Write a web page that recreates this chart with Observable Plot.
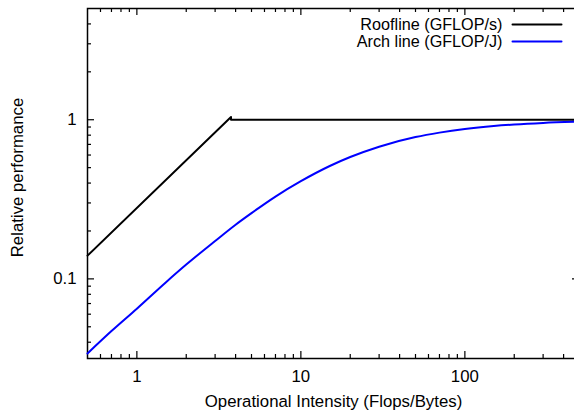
<!DOCTYPE html>
<html><head><meta charset="utf-8">
<script src="https://cdn.jsdelivr.net/npm/d3@7"></script>
<script src="https://cdn.jsdelivr.net/npm/@observablehq/plot@0.6"></script>
<style>
html,body{margin:0;padding:0;overflow:hidden;background:#fff;width:574px;height:410px}
#chart{width:574px;height:410px;overflow:hidden}
#chart svg{max-width:none !important;width:580px !important;height:410px !important;display:block}
</style></head><body><div id="chart"></div>
<script>
// Roofline (GFLOP/s)
const roofI = [0.5, 3.75, 3.75, 500];
const roofPerf = [0.14, 1.04, 1.0, 1.0];
// Arch line (GFLOP/J)
const archI = [0.5, 0.7, 1, 1.5, 2, 3, 4, 5, 7, 10, 15, 20, 30, 50, 70, 100, 150, 200, 300, 500];
const archPerf = [0.034, 0.047, 0.065, 0.095, 0.123, 0.173, 0.219, 0.259, 0.329, 0.411, 0.512, 0.583, 0.677, 0.778, 0.830, 0.875, 0.913, 0.933, 0.954, 0.972];
const seriesNames = ["Roofline (GFLOP/s)", "Arch line (GFLOP/J)"];
const seriesColors = ["#000000", "#0000ff"];
const xMajor = [1, 10, 100];
const xMinor = [0.6, 0.7, 0.8, 0.9, 2, 3, 4, 5, 6, 7, 8, 9, 20, 30, 40, 50, 60, 70, 80, 90, 200, 300, 400];
const yMajor = [0.1, 1];
const yMinor = [0.04, 0.05, 0.06, 0.07, 0.08, 0.09, 0.2, 0.3, 0.4, 0.5, 0.6, 0.7, 0.8, 0.9, 2, 3, 4];
const xLabel = "Operational Intensity (Flops/Bytes)";
const yLabel = "Relative performance";

const W = 580, H = 410, ML = 87, MR = 1, MT = 8, MB = 52;
const frameW = W - ML - MR, frameH = H - MT - MB;
const roof = roofI.map((x, i) => ({x, y: roofPerf[i]}));
const arch = archI.map((x, i) => ({x, y: archPerf[i]}));
const fmt = d => String(d);
const FS = 16.8;
const lineShape = {draw(ctx, l) { ctx.moveTo(0, 0); ctx.lineTo(0, -l); }};
// inward tick marks: tick marks inset so that only a short piece next to the frame side remains
const tickMarks = (values, side, size) => side === "bottom" || side === "top"
  ? Plot.tickX(values, {x: d => d, [side === "bottom" ? "insetTop" : "insetBottom"]: frameH - size, stroke: "black", strokeWidth: 1.2})
  : Plot.tickY(values, {y: d => d, [side === "left" ? "insetRight" : "insetLeft"]: frameW - size, stroke: "black", strokeWidth: 1.2});

const plot = Plot.plot({
  width: W, height: H,
  marginLeft: ML, marginRight: MR, marginTop: MT, marginBottom: MB,
  style: {fontFamily: "'Liberation Sans', Arial, sans-serif", fontSize: FS + "px", background: "white", color: "black"},
  x: {type: "log", domain: [0.5, 500]},
  y: {type: "log", domain: [0.0316, 5]},
  marks: [
    // tick labels
    Plot.axisX(xMajor, {anchor: "bottom", tickSize: 0, tickPadding: 12, tickFormat: fmt, label: null, fontSize: FS}),
    Plot.axisY(yMajor, {anchor: "left", tickSize: 0, tickPadding: 11, tickFormat: fmt, label: null, fontSize: FS}),
    // inward ticks
    tickMarks(xMajor, "bottom", 7), tickMarks(xMinor, "bottom", 4),
    tickMarks(xMajor, "top", 7), tickMarks(xMinor, "top", 4),
    tickMarks(yMajor, "left", 7), tickMarks(yMinor, "left", 4),
    tickMarks(yMajor, "right", 7), tickMarks(yMinor, "right", 4),
    Plot.frame({stroke: "black", strokeWidth: 1.5}),
    // axis titles
    Plot.text([xLabel], {frameAnchor: "bottom", text: d => d, dy: 43, lineAnchor: "middle", textAnchor: "middle", fontSize: FS}),
    Plot.text([yLabel], {frameAnchor: "left", text: d => d, rotate: -90, dx: -69.5, dy: -6, lineAnchor: "middle", textAnchor: "middle", fontSize: FS}),
    // series
    Plot.line(roof, {x: "x", y: "y", stroke: seriesColors[0], strokeWidth: 2}),
    Plot.line(arch, {x: "x", y: "y", stroke: seriesColors[1], strokeWidth: 2, curve: "monotone-x"}),
    // legend
    ...seriesNames.flatMap((name, i) => [
      Plot.text([name], {frameAnchor: "top-right", text: d => d, textAnchor: "end", lineAnchor: "middle", dx: -77, dy: 16 + 17 * i, fontSize: 16.2}),
      Plot.vector([name], {frameAnchor: "top-right", dx: -67, dy: 16 + 17 * i, rotate: 90, length: 49, anchor: "start", shape: lineShape, stroke: seriesColors[i], strokeWidth: 2})
    ])
  ]
});
plot.style.maxWidth = "none";
document.getElementById("chart").appendChild(plot);
</script></body></html>
